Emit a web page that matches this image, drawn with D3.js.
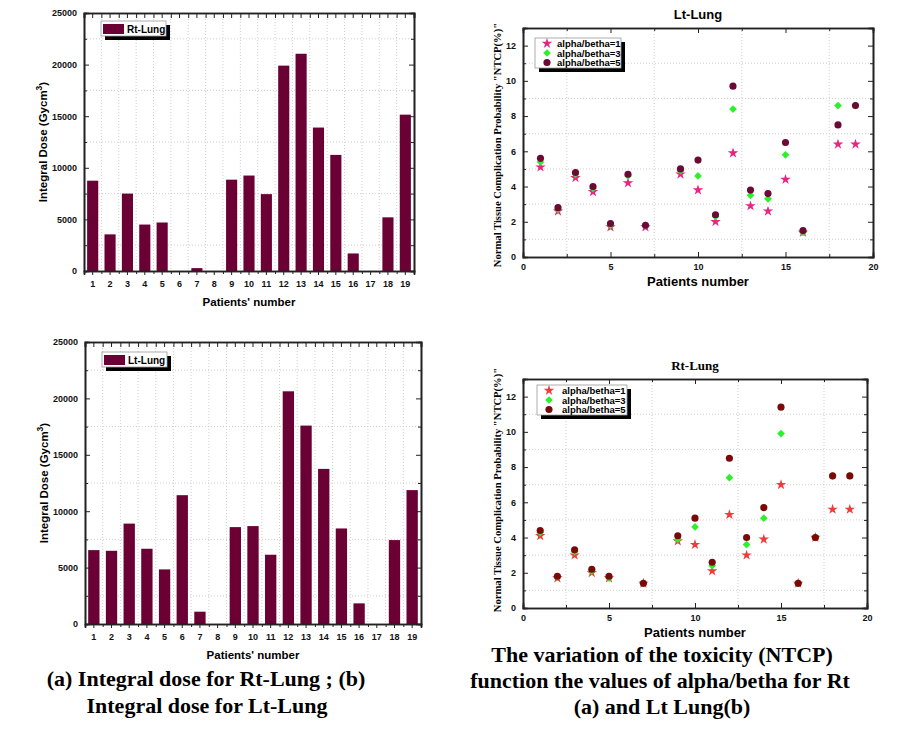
<!DOCTYPE html>
<html>
<head>
<meta charset="utf-8">
<script src="https://cdn.jsdelivr.net/npm/d3@7"></script>
<style>
  body { margin: 0; background: #fff; }
  svg { display: block; }
  .tick text { font-family: Arial, "Liberation Sans", sans-serif; font-weight: bold; font-size: 9px; fill: #111; }
  .axis path, .axis line { stroke: #222; }
  .grid line { stroke: #cfcfcf; stroke-dasharray: 1,2; }
</style>
</head>
<body>
<svg id="fig" width="909" height="731"></svg>
<script>
// data
var patients = ['1','2','3','4','5','6','7','8','9','10','11','12','13','14','15','16','17','18','19'];
var rtDose = [8750, 3550, 7500, 4500, 4700, 0, 280, 0, 8850, 9250, 7450, 19900, 21050, 13900, 11250, 1700, 0, 5200, 15150];
var ltDose = [6550, 6490, 8900, 6670, 4840, 11420, 1090, 0, 8590, 8680, 6140, 20630, 17590, 13750, 8470, 1830, 0, 7440, 11870];
var doseTicks = [0, 5000, 10000, 15000, 20000, 25000];

var seriesNames = ['alpha/betha=1', 'alpha/betha=3', 'alpha/betha=5'];

var ltPatients = [1, 2, 3, 4, 5, 6, 7, 9, 10, 11, 12, 13, 14, 15, 16, 18, 19];
var ltAb1 = [5.1, 2.6, 4.5, 3.7, 1.7, 4.2, 1.7, 4.7, 3.8, 2.0, 5.9, 2.9, 2.6, 4.4, 1.4, 6.4, 6.4];
var ltAb3 = [5.4, 2.7, 4.7, 3.9, 1.8, 4.6, 1.8, 4.9, 4.6, 2.3, 8.4, 3.5, 3.3, 5.8, 1.4, 8.6, 8.6];
var ltAb5 = [5.6, 2.8, 4.8, 4.0, 1.9, 4.7, 1.8, 5.0, 5.5, 2.4, 9.7, 3.8, 3.6, 6.5, 1.5, 7.5, 8.6];

var rtPatients = [1, 2, 3, 4, 5, 7, 9, 10, 11, 12, 13, 14, 15, 16, 17, 18, 19];
var rtAb1 = [4.1, 1.7, 3.0, 2.0, 1.7, 1.4, 3.8, 3.6, 2.1, 5.3, 3.0, 3.9, 7.0, 1.4, 4.0, 5.6, 5.6];
var rtAb3 = [4.3, 1.75, 3.2, 2.1, 1.7, 1.4, 3.9, 4.6, 2.4, 7.4, 3.6, 5.1, 9.9, 1.4, 4.0, 7.5, 7.5];
var rtAb5 = [4.4, 1.8, 3.3, 2.2, 1.8, 1.4, 4.1, 5.1, 2.6, 8.5, 4.0, 5.7, 11.4, 1.4, 4.0, 7.5, 7.5];

var ntcpXTicks = [0, 5, 10, 15, 20];
var ntcpYTicks = [0, 2, 4, 6, 8, 10, 12];

var svg = d3.select('#fig');
var sans = 'Arial, "Liberation Sans", sans-serif';
var serif = '"Times New Roman", "Liberation Serif", serif';
var barColor = '#6b0035';

function barChart(box, values, name) {
  var g = svg.append('g').attr('transform', 'translate(' + box.left + ',' + box.top + ')');
  var w = box.width, h = box.height;
  var x = d3.scaleBand().domain(patients).range([0, w]).paddingInner(0.36).paddingOuter(0.18);
  var xl = d3.scaleLinear().domain([0, patients.length]).range([0, w]);
  var y = d3.scaleLinear().domain([0, 25000]).range([h, 0]);

  // grid
  g.append('g').attr('class', 'grid').selectAll('line')
    .data(d3.range(2500, 25000, 5000)).enter().append('line')
    .attr('x1', 0).attr('x2', w).attr('y1', y).attr('y2', y);
  g.append('g').attr('class', 'grid').selectAll('line')
    .data(d3.range(1, patients.length)).enter().append('line')
    .attr('y1', 0).attr('y2', h).attr('x1', xl).attr('x2', xl);

  g.selectAll('rect.bar').data(values).enter().append('rect')
    .attr('class', 'bar')
    .attr('x', function(d, i) { return x(patients[i]); })
    .attr('width', x.bandwidth())
    .attr('y', function(d) { return y(d); })
    .attr('height', function(d) { return h - y(d); })
    .attr('fill', barColor);

  // axes
  g.append('g').attr('class', 'axis').attr('transform', 'translate(0,' + h + ')')
    .call(d3.axisBottom(x).tickSize(4).tickPadding(6));
  g.append('g').attr('class', 'axis').attr('transform', 'translate(0,' + h + ')')
    .call(d3.axisBottom(xl).tickValues(d3.range(0, patients.length + 1)).tickSize(3).tickFormat(''));
  g.append('g').attr('class', 'axis')
    .call(d3.axisTop(x).tickSize(-5).tickFormat(''));
  g.append('g').attr('class', 'axis')
    .call(d3.axisTop(xl).tickValues(d3.range(0, patients.length + 1)).tickSize(-5).tickFormat(''));
  g.append('g').attr('class', 'axis')
    .call(d3.axisLeft(y).tickValues(doseTicks).tickSize(-5).tickPadding(7).tickFormat(d3.format('d')));
  g.append('g').attr('class', 'axis')
    .call(d3.axisLeft(y).tickValues(d3.range(2500, 25000, 5000)).tickSize(-3).tickFormat(''));
  g.append('g').attr('class', 'axis').attr('transform', 'translate(' + w + ',0)')
    .call(d3.axisRight(y).tickValues(doseTicks).tickSize(-5).tickFormat(''));
  g.append('g').attr('class', 'axis').attr('transform', 'translate(' + w + ',0)')
    .call(d3.axisRight(y).tickValues(d3.range(2500, 25000, 5000)).tickSize(-3).tickFormat(''));
  g.selectAll('.axis path').attr('stroke-width', 1.6);

  // legend
  var lg = g.append('g').attr('transform', 'translate(17,' + box.legY + ')');
  lg.append('rect').attr('x', 4).attr('y', 4).attr('width', 65).attr('height', 15).attr('fill', '#000');
  lg.append('rect').attr('width', 65).attr('height', 15).attr('fill', '#fff').attr('stroke', '#999').attr('stroke-width', 0.8);
  lg.append('rect').attr('x', 2).attr('y', 3).attr('width', 21).attr('height', 10).attr('fill', barColor);
  lg.append('text').attr('x', 26).attr('y', 11.5).text(name)
    .attr('font-family', sans).attr('font-weight', 'bold').attr('font-size', 10);

  // axis titles
  var yt = g.append('text').attr('transform', 'translate(-37,' + (h / 2) + ') rotate(-90)')
    .attr('text-anchor', 'middle').attr('font-family', sans).attr('font-weight', 'bold').attr('font-size', 11.5);
  yt.append('tspan').text('Integral Dose (Gycm');
  yt.append('tspan').attr('dy', -5).attr('font-size', 8.5).text('3');
  yt.append('tspan').attr('dy', 5).text(')');
  g.append('text').attr('x', w / 2).attr('y', h + box.xTitle).attr('text-anchor', 'middle')
    .attr('font-family', sans).attr('font-weight', 'bold').attr('font-size', 11.5).text("Patients' number");
}

var shapes = [d3.symbolStar, d3.symbolSquare, d3.symbolCircle];
var sizes = [34, 30, 40];
var rotations = [0, 45, 0];

function ntcpChart(box, xs, s1, s2, s3, title, colors) {
  var g = svg.append('g').attr('transform', 'translate(' + box.left + ',' + box.top + ')');
  var w = box.width, h = box.height;
  var x = d3.scaleLinear().domain([0, 20]).range([0, w]);
  var y = d3.scaleLinear().domain([0, 13]).range([h, 0]);

  g.append('g').attr('class', 'grid').selectAll('line')
    .data(d3.range(1, 13, 2)).enter().append('line')
    .attr('x1', 0).attr('x2', w).attr('y1', y).attr('y2', y);
  g.append('g').attr('class', 'grid').selectAll('line')
    .data([2.5, 7.5, 12.5, 17.5]).enter().append('line')
    .attr('y1', 0).attr('y2', h).attr('x1', x).attr('x2', x);

  var yMinor = d3.range(1, 13, 2), xMinor = [2.5, 7.5, 12.5, 17.5];
  g.append('g').attr('class', 'axis').attr('transform', 'translate(0,' + h + ')')
    .call(d3.axisBottom(x).tickValues(ntcpXTicks).tickSize(-5).tickPadding(7));
  g.append('g').attr('class', 'axis').attr('transform', 'translate(0,' + h + ')')
    .call(d3.axisBottom(x).tickValues(xMinor).tickSize(-3).tickFormat(''));
  g.append('g').attr('class', 'axis')
    .call(d3.axisTop(x).tickValues(ntcpXTicks).tickSize(-5).tickFormat(''));
  g.append('g').attr('class', 'axis')
    .call(d3.axisTop(x).tickValues(xMinor).tickSize(-3).tickFormat(''));
  g.append('g').attr('class', 'axis')
    .call(d3.axisLeft(y).tickValues(ntcpYTicks).tickSize(-5).tickPadding(7));
  g.append('g').attr('class', 'axis')
    .call(d3.axisLeft(y).tickValues(yMinor).tickSize(-3).tickFormat(''));
  g.append('g').attr('class', 'axis').attr('transform', 'translate(' + w + ',0)')
    .call(d3.axisRight(y).tickValues(ntcpYTicks).tickSize(-5).tickFormat(''));
  g.append('g').attr('class', 'axis').attr('transform', 'translate(' + w + ',0)')
    .call(d3.axisRight(y).tickValues(yMinor).tickSize(-3).tickFormat(''));
  g.selectAll('.axis path').attr('stroke-width', 1.6);

  [s1, s2, s3].forEach(function(vals, k) {
    g.selectAll('path.s' + k).data(vals).enter().append('path')
      .attr('class', 's' + k)
      .attr('d', d3.symbol().type(shapes[k]).size(sizes[k]))
      .attr('transform', function(d, i) {
        return 'translate(' + x(xs[i]) + ',' + y(d) + ') rotate(' + rotations[k] + ')';
      })
      .attr('fill', colors[k]);
  });

  // legend
  var lg = g.append('g').attr('transform', 'translate(' + box.legX + ',' + box.legY + ')');
  lg.append('rect').attr('x', 4).attr('y', 4).attr('width', box.legW).attr('height', 30).attr('fill', '#000');
  lg.append('rect').attr('width', box.legW).attr('height', 30).attr('fill', '#fff').attr('stroke', '#999').attr('stroke-width', 0.8);
  seriesNames.forEach(function(n, k) {
    lg.append('path').attr('d', d3.symbol().type(shapes[k]).size(sizes[k]))
      .attr('transform', 'translate(' + box.symX + ',' + (5.5 + k * 9.5) + ') rotate(' + rotations[k] + ')')
      .attr('fill', colors[k]);
    lg.append('text').attr('x', box.txtX).attr('y', 9 + k * 9.5).text(n)
      .attr('font-family', sans).attr('font-weight', 'bold').attr('font-size', 9.5);
  });

  g.append('text').attr('x', w / 2).attr('y', box.titleY).attr('text-anchor', 'middle')
    .attr('font-family', box.titleFont).attr('font-weight', 'bold').attr('font-size', 13).text(title);
  g.append('text').attr('transform', 'translate(-22,' + box.yTitleY + ') rotate(-90)')
    .attr('text-anchor', 'middle').attr('font-family', serif).attr('font-weight', 'bold').attr('font-size', 10.6)
    .text('Normal Tissue Complication Probability "NTCP(%)"');
  g.append('text').attr('x', w / 2).attr('y', h + 29).attr('text-anchor', 'middle')
    .attr('font-family', sans).attr('font-weight', 'bold').attr('font-size', 13).text('Patients number');
}

barChart({left: 84, top: 13, width: 330, height: 258, xTitle: 35, legY: 8}, rtDose, 'Rt-Lung');
barChart({left: 85, top: 342, width: 336, height: 282, xTitle: 35, legY: 10}, ltDose, 'Lt-Lung');

ntcpChart({left: 523, top: 28, width: 350, height: 229, legX: 12, legY: 10, legW: 86, symX: 12, txtX: 22,
  titleY: -9, titleFont: sans, yTitleY: 117}, ltPatients, ltAb1, ltAb3, ltAb5, 'Lt-Lung', ['#e8257f', '#2df02d', '#6a0a35']);
ntcpChart({left: 523, top: 379, width: 344, height: 229, legX: 14, legY: 6, legW: 90, symX: 12, txtX: 25,
  titleY: -9, titleFont: serif, yTitleY: 111}, rtPatients, rtAb1, rtAb3, rtAb5, 'Rt-Lung', ['#ef3b3b', '#2df02d', '#7a0a0a']);

// captions
var caps = [
  {x: 206, y: 686, t: '(a) Integral dose for Rt-Lung ; (b)'},
  {x: 207, y: 713, t: 'Integral dose for Lt-Lung'},
  {x: 662, y: 662, t: 'The variation of the toxicity (NTCP)'},
  {x: 660, y: 688, t: 'function the values of alpha/betha for Rt'},
  {x: 662, y: 714, t: '(a) and Lt Lung(b)'}
];
svg.selectAll('text.cap').data(caps).enter().append('text').attr('class', 'cap')
  .attr('x', function(d) { return d.x; }).attr('y', function(d) { return d.y; })
  .attr('text-anchor', 'middle').attr('font-family', serif).attr('font-weight', 'bold').attr('font-size', 22)
  .text(function(d) { return d.t; });
</script>
</body>
</html>
